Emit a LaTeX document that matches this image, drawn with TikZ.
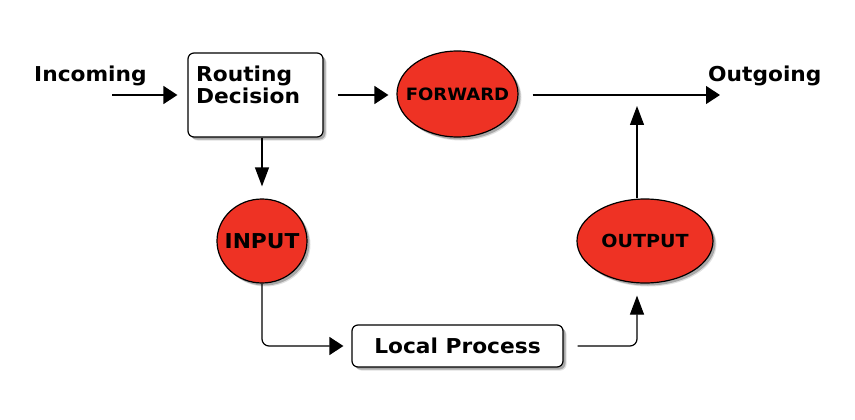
\documentclass[tikz,border=0pt]{standalone}
\usepackage{fontspec}
\setmainfont{DejaVu Sans}[BoldFont={DejaVu Sans Bold},BoldFeatures={FakeStretch=1.06}]
\usetikzlibrary{arrows.meta,shadows,shapes.geometric}
\definecolor{nodered}{HTML}{EE3224}
\tikzset{
  shad/.style={
    drop shadow={shadow xshift=3.5pt,shadow yshift=-3.5pt,opacity=0.12,fill=black},
    drop shadow={shadow xshift=2.5pt,shadow yshift=-2.5pt,opacity=0.25,fill=black}},
  boxnode/.style={draw=black,line width=1.2pt,fill=white,rounded corners=6pt,inner sep=0pt,shad},
  ellnode/.style={ellipse,draw=black,line width=1.2pt,fill=nodered,inner sep=0pt,shad},
  lbl/.style={font=\bfseries\fontsize{20.5}{21}\selectfont,inner sep=0pt},
  ellbl/.style={inner sep=0pt},
  conn/.style={draw=black,line width=1.2pt},
  harrow/.style={conn,-{Triangle[length=14pt,width=18pt]}},
  varrow/.style={conn,-{Triangle[length=19pt,width=14pt]}},
}
\begin{document}
\begin{tikzpicture}[x=1pt,y=-1pt]
\useasboundingbox (0,0) rectangle (855,420);
% nodes
\node[boxnode,minimum width=135pt,minimum height=84pt] (rd) at (255.5,95) {};
\node[lbl,anchor=base west,align=left] (rdt) at (196,103) {Routing\\Decision};
\node[ellnode,minimum width=121pt,minimum height=86pt] (fwd) at (457.5,94) {};
\node[ellbl,font=\bfseries\fontsize{17}{18}\selectfont] (fwdt) at (fwd.center) {FORWARD};
\node[ellnode,minimum width=90pt,minimum height=84pt] (inp) at (262,241) {};
\node[ellbl,font=\bfseries\fontsize{20.5}{22}\selectfont] (inpt) at (inp.center) {INPUT};
\node[ellnode,minimum width=136pt,minimum height=84pt] (out) at (645,241) {};
\node[ellbl,font=\bfseries\fontsize{18}{19}\selectfont] (outt) at (out.center) {OUTPUT};
\node[boxnode,minimum width=211pt,minimum height=42pt] (lp) at (457.5,346) {};
\node[lbl] (lpt) at (lp.center) {Local Process};
\node[lbl,anchor=base west] (inc) at (34,82) {Incoming};
\node[lbl,anchor=base west] (outg) at (708,82) {Outgoing};
% free ends
\coordinate (incS) at (112,95);
\coordinate (outgE) at (720,95);
\coordinate (upE) at (637,106);
% connectors
\draw[harrow,shorten >=10pt] (incS) -- (rd.west);
\draw[harrow,shorten <=14pt,shorten >=8pt] (rd.east) -- (rd.east -| fwd.west);
\draw[harrow,shorten <=14pt] (fwd.east |- outgE) -- (outgE);
\draw[varrow,shorten >=12pt] (inp.north |- rd.south) -- (inp.north);
\draw[harrow,rounded corners=7pt,shorten >=8pt] (inp.south) |- (lp.west);
\draw[varrow,rounded corners=7pt,shorten <=14pt,shorten >=12pt] (lp.east) -| ([xshift=-8pt]out.south);
\draw[varrow] ([xshift=-8pt]out.north) -- (upE);
\end{tikzpicture}
\end{document}
